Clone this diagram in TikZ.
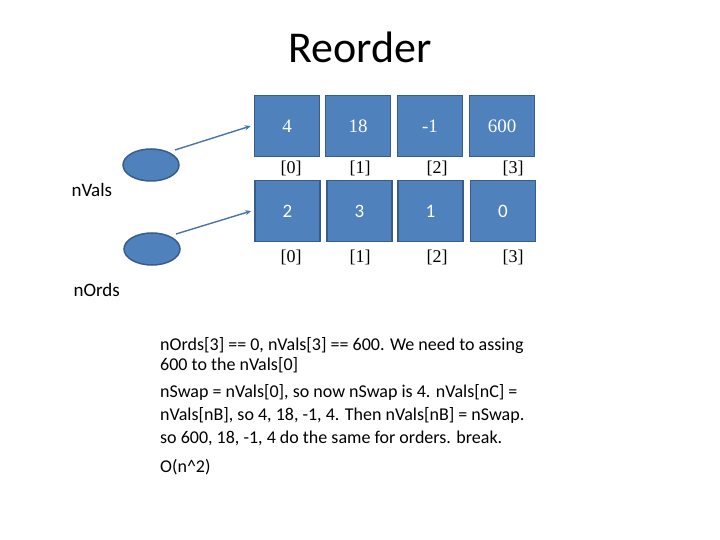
\documentclass[tikz,border=0pt]{standalone}
\usepackage{fontspec}
\setmainfont{Carlito}
\newfontfamily\numfont{Liberation Serif}
\usetikzlibrary{shapes.geometric,arrows.meta}
\definecolor{cellblue}{HTML}{4F81BD}
\definecolor{celledge}{HTML}{385D8A}
\begin{document}
\begin{tikzpicture}[x=1pt,y=-1pt,
    cell/.style={draw=celledge,fill=cellblue,line width=1.5pt,minimum width=65pt,
        minimum height=61pt,inner sep=0pt,text=white,font=\fontsize{19}{22}\selectfont},
    ptr/.style={draw=celledge,fill=cellblue,ellipse,line width=1.5pt,
        minimum width=56pt,minimum height=32pt,inner sep=0pt},
    idx/.style={font=\numfont\fontsize{18}{20}\selectfont},
    link/.style={draw=cellblue!90!black,line width=1.4pt,-{Stealth[length=6pt,width=5pt]}},
    note/.style={anchor=base west,inner sep=0pt,font=\fontsize{18}{20}\selectfont}]
    \useasboundingbox (0,0) rectangle (720,540);
    \node (title) at (360,47) {\fontsize{44}{50}\selectfont Reorder};
    % nVals row
    \foreach \i/\v/\x/\lx in {0/4/287/291,1/18/358/360,2/-1/430/437,3/600/502/513}{
        \node[cell,font=\numfont\fontsize{19}{22}\selectfont] (val\i) at (\x,126) {\v};
        \node[idx] (vidx\i) at (\lx,168) {[\i]};
    }
    % nOrds row
    \foreach \i/\v/\x/\lx in {0/2/287.5/291,1/3/359.5/360,2/1/430.5/437,3/0/503/513}{
        \node[cell] (ord\i) at (\x,211) {\v};
        \node[idx] (oidx\i) at (\lx,257) {[\i]};
    }
    \node[ptr] (pvals) at (151,165) {};
    \node[ptr] (pords) at (152,249) {};
    \node[anchor=west,font=\fontsize{19}{22}\selectfont] (lvals) at (68,190) {nVals};
    \node[anchor=west,font=\fontsize{19}{22}\selectfont] (lords) at (70,290) {nOrds};
    \draw[link] ([xshift=24pt,yshift=15pt]pvals.center) -- ([xshift=-3pt]val0.west);
    \draw[link] ([xshift=24pt,yshift=15pt]pords.center) -- ([xshift=-3pt]ord0.west);
    % explanation
    \node[note] (n1) at (160,350) {nOrds[3] == 0, nVals[3] == 600. We need to assing};
    \node[note] (n2) at (160,370) {600 to the nVals[0]};
    \node[note] (n3) at (160,397) {nSwap = nVals[0], so now nSwap is 4. nVals[nC] =};
    \node[note] (n4) at (160,420) {nVals[nB], so 4, 18, -1, 4. Then nVals[nB] = nSwap.};
    \node[note] (n5) at (160,443) {so 600, 18, -1, 4 do the same for orders. break.};
    \node[note] (n6) at (160,472) {O(n\^{}2)};
\end{tikzpicture}
\end{document}
